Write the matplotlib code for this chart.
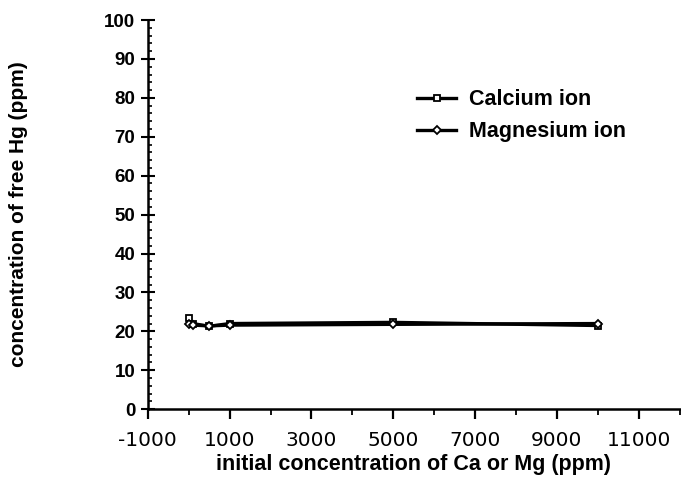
import matplotlib.pyplot as plt
from matplotlib.ticker import MultipleLocator

# free Hg left in solution vs. initial Ca / Mg concentration
ca_conc = [0, 100, 500, 1000, 5000, 10000]
ca_hg = [23.5, 22.0, 21.3, 22.0, 22.3, 21.5]
mg_conc = [0, 100, 500, 1000, 5000, 10000]
mg_hg = [22.0, 21.6, 21.4, 21.6, 21.8, 22.0]

plt.rcParams['font.family'] = ['Liberation Sans', 'DejaVu Sans']
plt.rcParams['axes.unicode_minus'] = False

fig = plt.figure(figsize=(6.81, 4.90), dpi=100)
ax = fig.add_axes([0.217, 0.165, 0.781, 0.794])

ax.plot(ca_conc, ca_hg, color='black', lw=2.4, marker='s', ms=5,
        mfc='white', mec='black', mew=1.3, label='Calcium ion')
ax.plot(mg_conc, mg_hg, color='black', lw=2.4, marker='D', ms=4.5,
        mfc='white', mec='black', mew=1.3, label='Magnesium ion')

ax.set_xlim(-1000, 12000)
ax.set_ylim(0, 100)
ax.set_xticks(range(-1000, 12000, 2000))
ax.xaxis.set_minor_locator(MultipleLocator(1000))
ax.yaxis.set_major_locator(MultipleLocator(10))
ax.yaxis.set_minor_locator(MultipleLocator(2))

for s in ['top', 'right']:
    ax.spines[s].set_visible(False)
for s in ['left', 'bottom']:
    ax.spines[s].set_linewidth(1.8)

ax.tick_params(axis='x', which='major', direction='out', length=7, width=1.6, pad=9)
ax.tick_params(axis='x', which='minor', direction='out', length=4, width=1.3)
ax.tick_params(axis='y', which='major', direction='inout', length=10, width=1.5, pad=4)
ax.tick_params(axis='y', which='minor', direction='in', length=3, width=1.2)
for t in ax.get_xticklabels():
    t.set_fontfamily(['DejaVu Sans'])
    t.set_fontsize(14.5)
for t in ax.get_yticklabels():
    t.set_fontweight('bold')
    t.set_fontsize(13.5)

ax.set_xlabel('initial concentration of Ca or Mg (ppm)', fontsize=15.5,
              fontweight='bold')
ax.set_ylabel('concentration of free Hg (ppm)', fontsize=15,
              fontweight='bold')
ax.xaxis.set_label_coords(0.5, -0.115)
ax.yaxis.set_label_coords(-0.225, 0.5)

ax.legend(loc='upper left', bbox_to_anchor=(0.6, 0.835),
          bbox_transform=fig.transFigure, frameon=False,
          handlelength=1.8, prop={'weight': 'bold', 'size': 15.5},
          labelspacing=0.5, handletextpad=0.6, borderaxespad=0)

fig.savefig('out.png', dpi=100)
